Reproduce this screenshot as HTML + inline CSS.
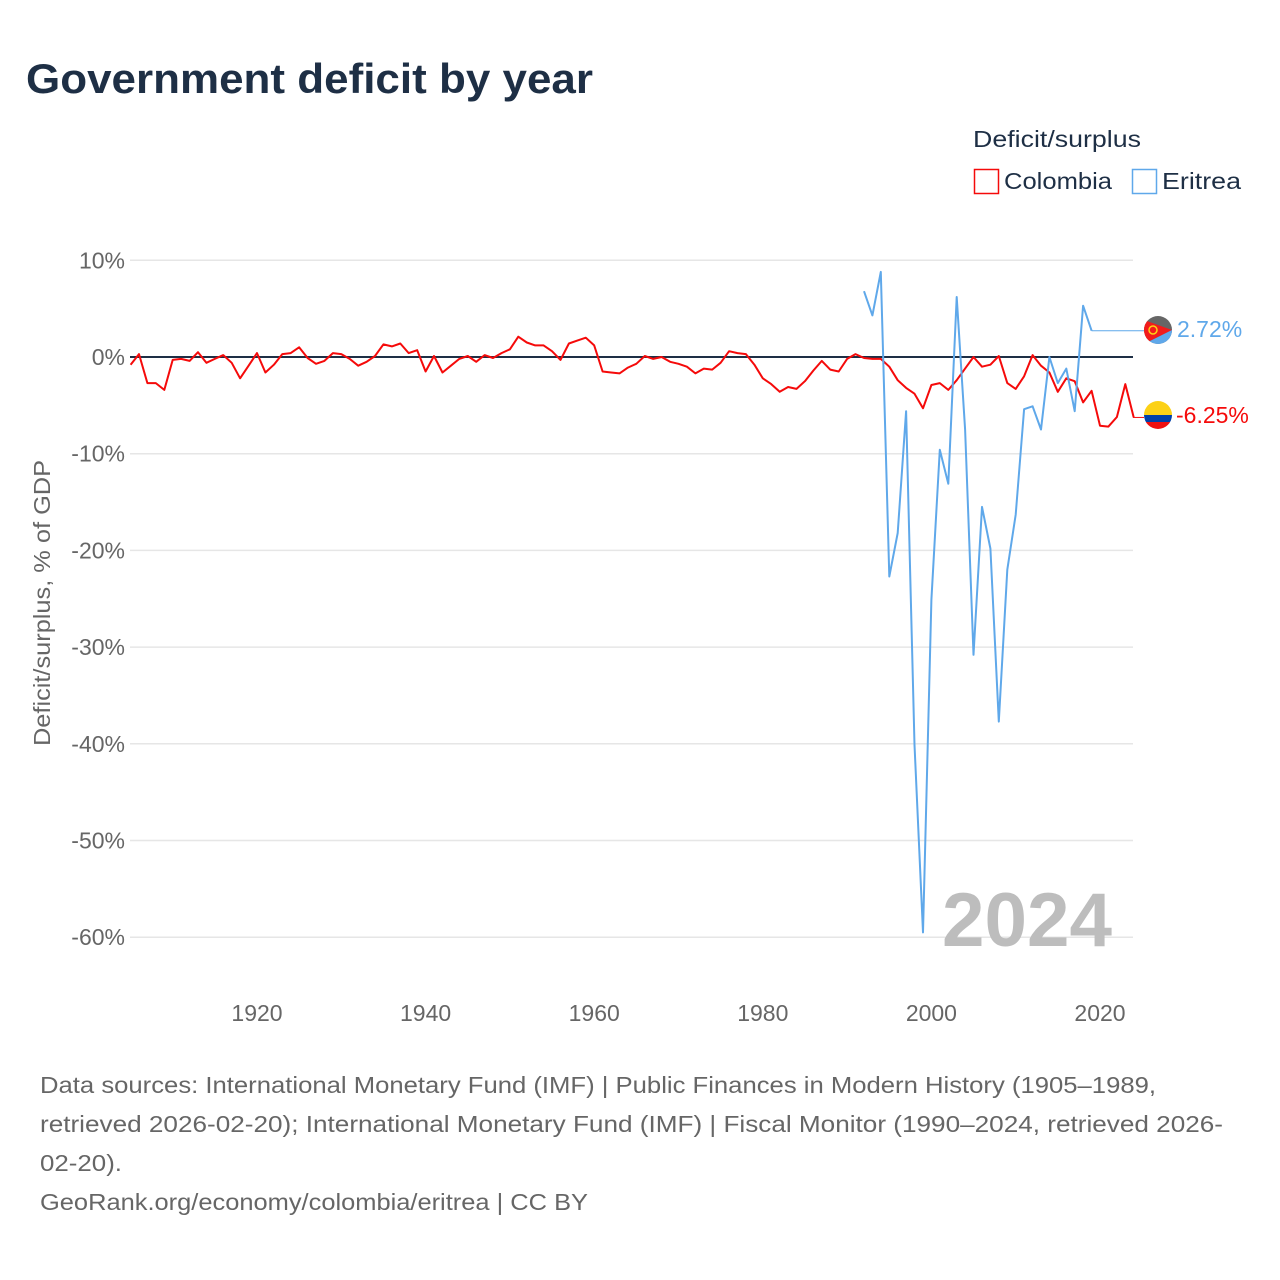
<!DOCTYPE html>
<html><head><meta charset="utf-8"><style>
html,body{margin:0;padding:0;background:#fff;}
svg{display:block;font-family:"Liberation Sans",sans-serif;}
</style></head><body>
<svg id="chart" width="1280" height="1280" viewBox="0 0 1280 1280" xmlns="http://www.w3.org/2000/svg">
<rect width="1280" height="1280" fill="#fff"/>
<text x="26" y="93" font-size="42" font-weight="bold" fill="#1e2f45" textLength="567" lengthAdjust="spacingAndGlyphs">Government deficit by year</text>
<g>
<text x="973" y="147" font-size="23" fill="#1e2f45" textLength="168" lengthAdjust="spacingAndGlyphs">Deficit/surplus</text>
<g>
<rect x="974.5" y="169.5" width="24" height="24" fill="none" stroke="#f50a0a" stroke-width="1.5"/>
<text x="1004" y="189" font-size="23" fill="#1e2f45" textLength="108" lengthAdjust="spacingAndGlyphs">Colombia</text>
</g>
<g>
<rect x="1132.5" y="169.5" width="24" height="24" fill="none" stroke="#5fa8ea" stroke-width="1.5"/>
<text x="1162" y="189" font-size="23" fill="#1e2f45" textLength="79" lengthAdjust="spacingAndGlyphs">Eritrea</text>
</g>
</g>
<g id="grid"></g>
<g id="yticks"></g>
<g id="xticks"></g>
<text transform="translate(50,603) rotate(-90)" text-anchor="middle" font-size="23" fill="#666" textLength="286" lengthAdjust="spacingAndGlyphs">Deficit/surplus, % of GDP</text>
<text x="1112" y="946" text-anchor="end" font-size="76" font-weight="bold" fill="#bdbdbd" textLength="170" lengthAdjust="spacingAndGlyphs">2024</text>
<g id="series"></g>
<g>
<clipPath id="ce"><circle cx="1158" cy="330" r="14"/></clipPath>
<g clip-path="url(#ce)">
<rect x="1144" y="316" width="28" height="28" fill="#666"/>
<polygon points="1144,320 1172,330 1144,344" fill="#f21b1b"/>
<polygon points="1144,344 1172,330 1172,344" fill="#5fa8ea"/>
<circle cx="1153" cy="330" r="4" fill="none" stroke="#fcd116" stroke-width="1.5"/>
</g>
</g>
<g>
<clipPath id="cc"><circle cx="1158" cy="415" r="14"/></clipPath>
<g clip-path="url(#cc)">
<rect x="1144" y="401" width="28" height="14" fill="#fcd116"/>
<rect x="1144" y="415" width="28" height="7" fill="#0040a8"/>
<rect x="1144" y="422" width="28" height="7" fill="#ef1010"/>
</g>
</g>
<text x="1177" y="337" font-size="23" fill="#5fa8ea">2.72%</text>
<text x="1176" y="423" font-size="23" fill="#f50a0a">-6.25%</text>
<g font-size="23" fill="#666">
<text x="40" y="1093" textLength="1116" lengthAdjust="spacingAndGlyphs">Data sources: International Monetary Fund (IMF) | Public Finances in Modern History (1905–1989,</text>
<text x="40" y="1132" textLength="1183" lengthAdjust="spacingAndGlyphs">retrieved 2026-02-20); International Monetary Fund (IMF) | Fiscal Monitor (1990–2024, retrieved 2026-</text>
<text x="40" y="1171" textLength="82" lengthAdjust="spacingAndGlyphs">02-20).</text>
<text x="40" y="1210" textLength="548" lengthAdjust="spacingAndGlyphs">GeoRank.org/economy/colombia/eritrea | CC BY</text>
</g>
</svg>
<script>
const colombiaStart = 1905;
const colombiaValues = [-0.8,0.3,-2.7,-2.7,-3.4,-0.3,-0.2,-0.4,0.5,-0.6,-0.2,0.2,-0.6,-2.2,-0.9,0.4,-1.6,-0.8,0.3,0.4,1.0,-0.1,-0.7,-0.4,0.4,0.3,-0.2,-0.9,-0.5,0.1,1.3,1.1,1.4,0.4,0.7,-1.5,0.1,-1.6,-0.9,-0.2,0.1,-0.5,0.2,-0.1,0.4,0.8,2.1,1.5,1.2,1.2,0.6,-0.3,1.4,1.7,2.0,1.2,-1.5,-1.6,-1.7,-1.1,-0.7,0.1,-0.2,0,-0.5,-0.7,-1.0,-1.7,-1.2,-1.3,-0.6,0.6,0.4,0.3,-0.8,-2.2,-2.8,-3.6,-3.1,-3.3,-2.5,-1.4,-0.4,-1.3,-1.5,-0.2,0.3,-0.1,-0.2,-0.2,-1.0,-2.4,-3.2,-3.8,-5.3,-2.9,-2.7,-3.4,-2.4,-1.2,0,-1.0,-0.8,0.1,-2.7,-3.3,-2.0,0.2,-0.9,-1.6,-3.6,-2.2,-2.5,-4.7,-3.5,-7.1,-7.2,-6.2,-2.8,-6.25];
const eritreaStart = 1992;
const eritreaValues = [6.8,4.3,8.8,-22.7,-18.2,-5.6,-40.1,-59.5,-25.1,-9.6,-13.1,6.2,-7.5,-30.8,-15.5,-19.8,-37.7,-22,-16.3,-5.4,-5.1,-7.5,0,-2.7,-1.2,-5.6,5.3,2.72];
const yTickValues = [10,0,-10,-20,-30,-40,-50,-60];
const xTickValues = [1920,1940,1960,1980,2000,2020];

const NS = "http://www.w3.org/2000/svg";
const xScale = yr => 257 + (yr - 1920) * 8.43;
const yScale = v => 357 - v * 9.67;
const X0 = 130, X1 = 1133;

const grid = document.getElementById('grid');
const yt = document.getElementById('yticks');
yTickValues.forEach(v => {
  const l = document.createElementNS(NS,'line');
  
  
  l.setAttribute('x1', X0); l.setAttribute('x2', X1);
  l.setAttribute('y1', yScale(v)); l.setAttribute('y2', yScale(v));
  l.setAttribute('stroke', '#e6e6e6'); l.setAttribute('stroke-width', '1.5');
  grid.appendChild(l);
  const t = document.createElementNS(NS,'text');
  
  
  t.setAttribute('x', 125); t.setAttribute('y', yScale(v) + 8);
  t.setAttribute('text-anchor', 'end'); t.setAttribute('font-size', '23'); t.setAttribute('fill', '#666');
  t.textContent = v + '%';
  yt.appendChild(t);
});
const xt = document.getElementById('xticks');
xTickValues.forEach(v => {
  const t = document.createElementNS(NS,'text');
  
  
  t.setAttribute('x', xScale(v)); t.setAttribute('y', 1021);
  t.setAttribute('text-anchor', 'middle'); t.setAttribute('font-size', '23'); t.setAttribute('fill', '#666');
  t.textContent = v;
  xt.appendChild(t);
});

const series = document.getElementById('series');
const zero = document.createElementNS(NS,'line');


zero.setAttribute('x1', X0); zero.setAttribute('x2', X1);
zero.setAttribute('y1', yScale(0)); zero.setAttribute('y2', yScale(0));
zero.setAttribute('stroke', '#1e2f45'); zero.setAttribute('stroke-width', '2');
series.appendChild(zero);

function drawLine(start, vals, color, name) {
  const p = document.createElementNS(NS,'polyline');
  
  
  p.setAttribute('points', vals.map((v,i) => xScale(start+i).toFixed(1) + ',' + yScale(v).toFixed(1)).join(' '));
  p.setAttribute('fill', 'none'); p.setAttribute('stroke', color);
  p.setAttribute('stroke-width', '2'); p.setAttribute('stroke-linejoin', 'round');
  series.appendChild(p);
}
drawLine(colombiaStart, colombiaValues, '#f50a0a', 'colombia-line');
drawLine(eritreaStart, eritreaValues, '#5fa8ea', 'eritrea-line');

const lastE = eritreaValues[eritreaValues.length-1];
const lastX = xScale(eritreaStart + eritreaValues.length - 1);
const lead = document.createElementNS(NS,'polyline');


lead.setAttribute('points', lastX + ',' + yScale(lastE) + ' 1144,' + yScale(lastE));
lead.setAttribute('fill', 'none'); lead.setAttribute('stroke', '#5fa8ea'); lead.setAttribute('stroke-width', '1');
series.appendChild(lead);
const lastC = colombiaValues[colombiaValues.length-1];
const leadC = document.createElementNS(NS,'line');


leadC.setAttribute('x1', X1); leadC.setAttribute('x2', 1144);
leadC.setAttribute('y1', yScale(lastC)); leadC.setAttribute('y2', yScale(lastC));
leadC.setAttribute('stroke', '#f50a0a'); leadC.setAttribute('stroke-width', '1');
series.appendChild(leadC);
</script>
</body></html>
